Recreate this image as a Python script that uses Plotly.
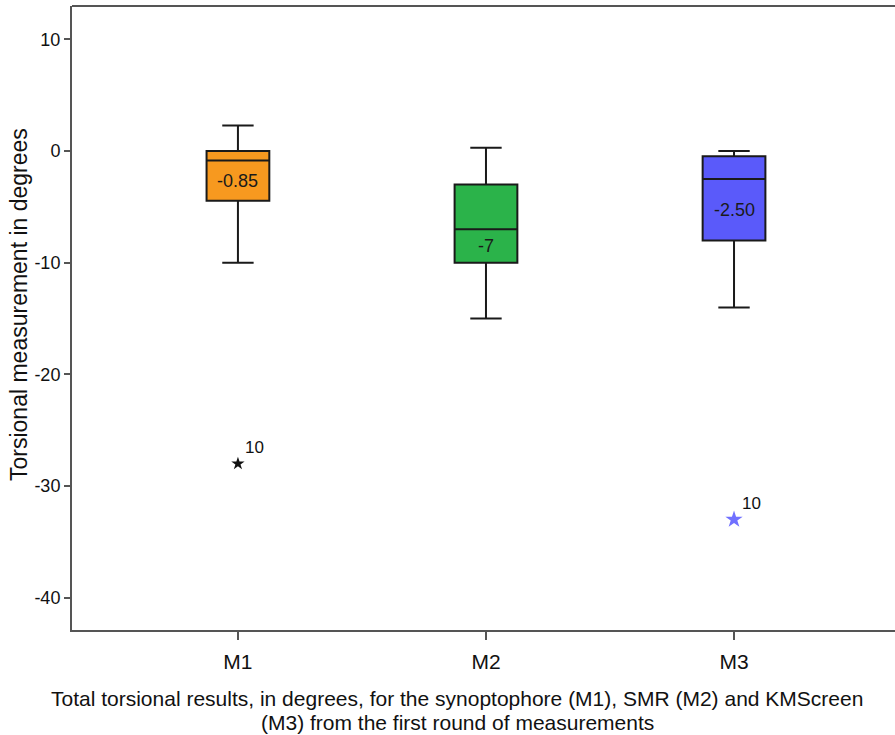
import plotly.graph_objects as go

categories = ["M1", "M2", "M3"]
x_pos = [0, 1, 2]
upper_whisker = [2.3, 0.3, 0.0]
q3 = [0.0, -3.0, -0.45]
median = [-0.85, -7.0, -2.5]
q1 = [-4.45, -10.0, -8.0]
lower_whisker = [-10.0, -15.0, -14.0]
median_labels = ["-0.85", "-7", "-2.50"]
fill_colors = ["#F7991F", "#2BB34A", "#5A5AFA"]

outlier_x = [0, 2]
outlier_y = [-28.0, -33.0]
outlier_labels = ["10", "10"]
outlier_colors = ["#111111", "#7070FF"]
outlier_sizes = [10, 13]

y_ticks = [10, 0, -10, -20, -30, -40]
y_ticktext = [str(v) for v in y_ticks]

FONT = "Liberation Sans, Arial, sans-serif"

fig = go.Figure()
for i in range(3):
    fig.add_trace(go.Box(
        x=[x_pos[i]], q1=[q1[i]], median=[median[i]], q3=[q3[i]],
        lowerfence=[lower_whisker[i]], upperfence=[upper_whisker[i]],
        width=0.253, whiskerwidth=0.5, boxpoints=False,
        fillcolor=fill_colors[i], line=dict(color="#1a1a1a", width=2),
        showlegend=False, hoverinfo="skip",
    ))
    fig.add_annotation(
        x=x_pos[i], y=(median[i] + q1[i]) / 2, text=median_labels[i],
        showarrow=False, font=dict(family=FONT, size=18, color="#1a1a1a"),
    )

for i in range(len(outlier_x)):
    fig.add_trace(go.Scatter(
        x=[outlier_x[i]], y=[outlier_y[i]], mode="markers",
        marker=dict(symbol="star", size=outlier_sizes[i], color=outlier_colors[i],
                    line=dict(width=0)),
        showlegend=False, hoverinfo="skip",
    ))
    fig.add_annotation(
        x=outlier_x[i], y=outlier_y[i], text=outlier_labels[i],
        showarrow=False, xshift=17, yshift=16,
        font=dict(family=FONT, size=17, color="#111111"),
    )

# top border
fig.add_shape(type="line", xref="paper", yref="paper", x0=0, x1=1, y0=1, y1=1,
              line=dict(color="#555555", width=2))

# y axis title
fig.add_annotation(
    xref="paper", yref="paper", x=0, y=0.5, xshift=-53, yshift=13,
    xanchor="center", yanchor="middle",
    text="Torsional measurement in degrees", textangle=-90, showarrow=False,
    font=dict(family=FONT, size=23, color="#111111"),
)
# x axis title (two lines)
fig.add_annotation(
    xref="paper", yref="paper", x=0.468, y=0, yshift=-68.5, xanchor="center", yanchor="middle",
    text="Total torsional results, in degrees, for the synoptophore (M1), SMR (M2) and KMScreen",
    showarrow=False, font=dict(family=FONT, size=21, color="#111111"),
)
fig.add_annotation(
    xref="paper", yref="paper", x=0.468, y=0, yshift=-92.5, xanchor="center", yanchor="middle",
    text="(M3) from the first round of measurements",
    showarrow=False, font=dict(family=FONT, size=21, color="#111111"),
)

fig.update_layout(
    width=895, height=735,
    margin=dict(l=72, r=0, t=6, b=105),
    paper_bgcolor="white", plot_bgcolor="white",
    font=dict(family=FONT, color="#111111"),
)
fig.update_xaxes(
    range=[-0.669, 2.649], tickvals=x_pos, ticktext=categories,
    showline=True, linecolor="#555555", linewidth=2,
    ticks="outside", ticklen=8, tickcolor="#555555", tickwidth=2,
    ticklabelstandoff=4,
    showgrid=False, zeroline=False, tickfont=dict(size=21, family=FONT, color="#111111"),
)
fig.update_yaxes(
    range=[-42.9, 13.0], tickvals=y_ticks, ticktext=y_ticktext,
    showline=True, linecolor="#555555", linewidth=2,
    ticks="outside", ticklen=6, tickcolor="#555555", tickwidth=2,
    showgrid=False, zeroline=False, tickfont=dict(size=18, family=FONT, color="#111111"),
)

fig.write_html("out.html")
